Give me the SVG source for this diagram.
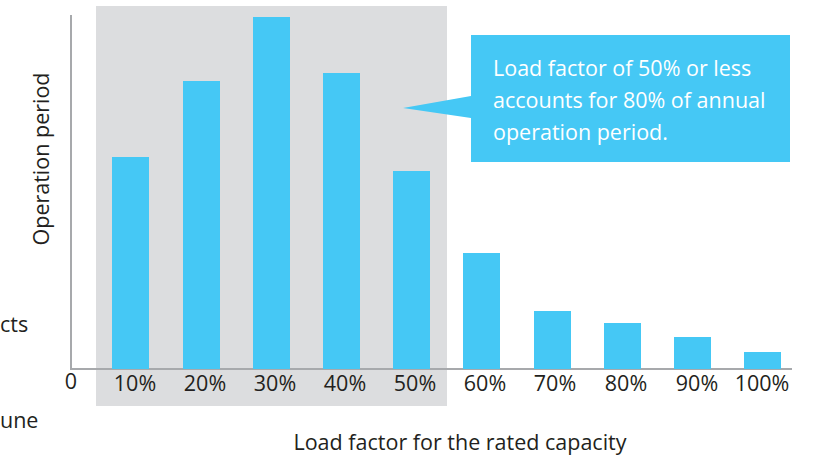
<svg xmlns="http://www.w3.org/2000/svg" width="818" height="460" viewBox="0 0 818 460">
<style>
.bar{fill:#45c8f5}
.lbl{font-family:"Open Sans","Noto Sans",sans-serif;font-size:21.5px;fill:#231f20}
.tick{text-anchor:middle}
.call{font-family:"Open Sans","Noto Sans",sans-serif;font-size:21.5px;fill:#ffffff}
.axis{stroke:#a7a9ac;stroke-width:2;fill:none}
</style>
<rect width="818" height="460" fill="#ffffff"/>
<rect id="highlight" x="96" y="6" width="351" height="400" fill="#dcdddf"/>
<g id="axes">
<path class="axis" d="M71 15 V369 H792"/>
</g>
<g id="bars">
<rect class="bar" x="112" y="157" width="37" height="212"/>
<rect class="bar" x="183" y="81" width="37" height="288"/>
<rect class="bar" x="253" y="17" width="37" height="352"/>
<rect class="bar" x="323" y="73" width="37" height="296"/>
<rect class="bar" x="393" y="171" width="37" height="198"/>
<rect class="bar" x="463" y="253" width="37" height="116"/>
<rect class="bar" x="534" y="311" width="37" height="58"/>
<rect class="bar" x="604" y="323" width="37" height="46"/>
<rect class="bar" x="674" y="337" width="37" height="32"/>
<rect class="bar" x="744" y="352" width="37" height="17"/>
</g>
<g id="ticks">
<text class="lbl tick" x="71" y="389">0</text>
<text class="lbl tick" x="135" y="391">10%</text>
<text class="lbl tick" x="205" y="391">20%</text>
<text class="lbl tick" x="275" y="391">30%</text>
<text class="lbl tick" x="345" y="391">40%</text>
<text class="lbl tick" x="415" y="391">50%</text>
<text class="lbl tick" x="485" y="391">60%</text>
<text class="lbl tick" x="555" y="391">70%</text>
<text class="lbl tick" x="626" y="391">80%</text>
<text class="lbl tick" x="697" y="391">90%</text>
<text class="lbl tick" x="762" y="391">100%</text>
</g>
<text class="lbl" x="0" y="332">cts</text>
<text class="lbl" x="0" y="428">une</text>
<text class="lbl" text-anchor="middle" transform="translate(49 159) rotate(-90)">Operation period</text>
<text class="lbl" text-anchor="middle" x="460" y="450">Load factor for the rated capacity</text>
<g id="callout">
<path d="M471 35 H790 V162 H471 V118 L403 108 L471 96 Z" fill="#45c8f5"/>
<text class="call" x="493" y="76">Load factor of 50% or less</text>
<text class="call" x="493" y="108">accounts for 80% of annual</text>
<text class="call" x="493" y="140">operation period.</text>
</g>
</svg>
